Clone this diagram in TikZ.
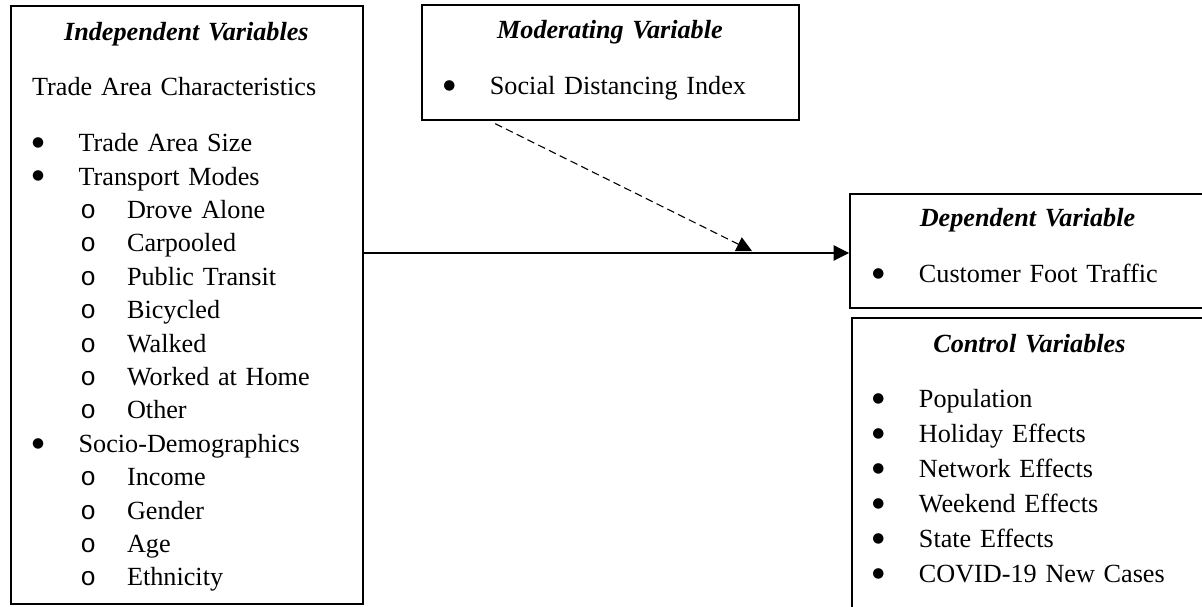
\documentclass[tikz,border=0pt]{standalone}
\usepackage{fontspec}
\setmainfont{Liberation Serif}
\setmonofont{Liberation Mono}
\newfontfamily\dotfont{DejaVu Sans}
\usetikzlibrary{arrows.meta,calc}

\newcommand{\dotmark}{\raisebox{2.4pt}{\dotfont\fontsize{6.3}{6}\selectfont ●}}
\newcommand{\bul}[1]{\makebox[21.3pt][l]{\dotmark}#1}
\newcommand{\subbul}[1]{\hspace*{22.1pt}\makebox[21.4pt][l]{\texttt{o}}#1}
\newcommand{\vartitle}[1]{\makebox[\linewidth][c]{\textbf{\textit{#1}}}}

\begin{document}
\begin{tikzpicture}[
  every node/.style={font=\fontsize{12}{15.3}\selectfont},
  varbox/.style={draw, line width=0.7pt, anchor=north west, inner sep=0pt},
  varlist/.style={anchor=base west, inner sep=0pt, align=left},
  flowarrow/.style={-{Triangle[length=7pt,width=7pt]}, line width=0.5pt},
  modarrow/.style={flowarrow, dash pattern=on 3.5pt off 2pt}
]
\useasboundingbox (0,0) rectangle (19.352,-9.757);
\clip (0,0) rectangle (19.352,-9.757);

% Boxes
\node[varbox, minimum width=5.667cm, minimum height=9.628cm] (indep) at (0.161,-0.081) {};
\node[varbox, minimum width=6.070cm, minimum height=1.852cm] (mod)   at (6.778,-0.064) {};
\node[varbox, minimum width=5.732cm, minimum height=1.835cm] (dep)   at (13.669,-3.107) {};
\node[varbox, minimum width=5.732cm, minimum height=5.2cm]   (ctrl)  at (13.701,-5.104) {};

% Independent variables
\node[varlist, text width=4.968cm] (indeplist) at (0.510,-0.644) {%
  \vartitle{Independent Variables}\\[10.3pt]
  Trade Area Characteristics\\[10.3pt]
  \bul{Trade Area Size}\\
  \bul{Transport Modes}\\
  \subbul{Drove Alone}\\
  \subbul{Carpooled}\\
  \subbul{Public Transit}\\
  \subbul{Bicycled}\\
  \subbul{Walked}\\
  \subbul{Worked at Home}\\
  \subbul{Other}\\
  \bul{Socio-Demographics}\\
  \subbul{Income}\\
  \subbul{Gender}\\
  \subbul{Age}\\
  \subbul{Ethnicity}};

% Moderating variable
\node[varlist, text width=5.361cm] (modlist) at (7.132,-0.612) {%
  \vartitle{Moderating Variable}\\[10.8pt]
  \bul{Social Distancing Index}};

% Dependent variable
\node[varlist, text width=4.991cm] (deplist) at (14.039,-3.650) {%
  \vartitle{Dependent Variable}\\[10.3pt]
  \bul{Customer Foot Traffic}};

% Control variables
\node[varlist, text width=5.055cm] (ctrllist) at (14.039,-5.667) {%
  \vartitle{Control Variables}\\[10.3pt]
  \bul{Population}\\[0.7pt]
  \bul{Holiday Effects}\\[0.7pt]
  \bul{Network Effects}\\[0.7pt]
  \bul{Weekend Effects}\\[0.7pt]
  \bul{State Effects}\\[0.7pt]
  \bul{COVID-19 New Cases}};

% Arrows
\coordinate (flow)  at (0,-4.073);
\coordinate (modpt) at (12.107,-4.041);
\draw[flowarrow] (indep.east |- flow) -- (dep.west |- flow);
\draw[modarrow] ($(mod.south west)!0.196!(mod.south east)+(0,-0.05)$) -- (modpt);
\end{tikzpicture}
\end{document}
